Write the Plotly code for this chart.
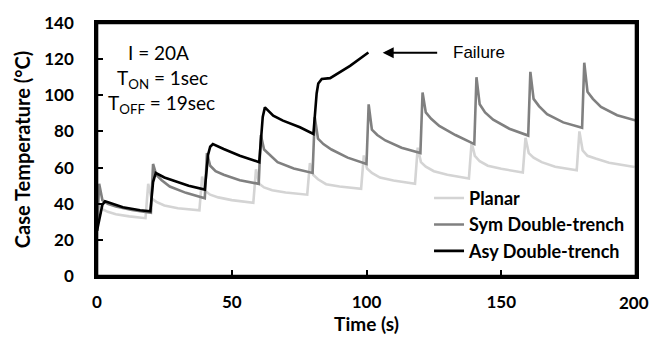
import plotly.graph_objects as go

# ---------------- data ----------------
planar_t = [0, 0.8, 2, 4, 7, 12, 18,
            19, 20.2, 22, 25, 30, 38,
            39, 40.2, 42, 45, 50, 58,
            59, 60.2, 62, 65, 70, 78,
            79, 80.2, 82, 85, 90, 98,
            99, 100.2, 102, 105, 110, 118,
            119, 120.2, 122, 125, 130, 138,
            139, 140.2, 142, 145, 150, 158,
            159, 160.2, 162, 165, 170, 178,
            179, 180.2, 182, 185, 190, 199.5]
planar_v = [25, 40, 37, 35.5, 34.2, 33, 32,
            51, 43, 41, 39, 37.5, 36.4,
            55, 47, 45, 43.5, 42, 40.5,
            59, 51, 49, 47.5, 46.2, 45,
            62.5, 56, 53.5, 50.8, 49.5, 48.3,
            66.7, 59.5, 57, 54.5, 52.8, 51,
            71, 63, 60.5, 58, 56, 54,
            74, 66.5, 63.5, 61, 59.3, 57.3,
            76.5, 68, 65.5, 63, 60.5, 58.5,
            80, 69.5, 66.5, 65, 62.7, 60.3]

sym_t = [0, 0.8, 2, 4, 7, 13, 20,
         20.8, 22, 24, 27, 33, 40,
         40.8, 42, 44, 47, 53, 60,
         60.8, 62, 64, 67, 73, 80,
         80.8, 82, 84, 87, 93, 100,
         100.8, 102, 104, 107, 113, 120,
         120.8, 122, 124, 127, 133, 140,
         140.8, 142, 144, 147, 153, 160,
         160.8, 162, 164, 167, 173, 180,
         180.8, 182, 184, 187, 193, 200]
sym_v = [25, 51, 42, 40, 38.5, 36.5, 35,
         62, 56, 53, 49.5, 46, 43,
         68, 61, 58, 56, 53, 51,
         78, 70, 67, 63, 59.5, 57,
         88, 76, 73, 70, 65.5, 62,
         95, 81, 78, 75, 71, 68,
         101.5, 90.5, 87, 83, 78, 73,
         110, 95, 90.5, 86.5, 81.5, 77.7,
         113, 98, 94, 89.5, 85, 82,
         118, 102, 98, 93.5, 89, 86]

asy_t = [0, 1, 2, 3, 5, 9.6, 16, 19.8,
         20.8, 21.8, 25, 28.3, 34, 40,
         41.2, 42, 43, 47, 53, 60.2,
         61.5, 62.3, 65.4, 69, 75.3, 80.3,
         81.5, 82.1, 83.4, 86.5, 89, 93.9, 100.7]
asy_v = [25, 33, 39.5, 41.3, 40.3, 38, 36.4, 35.8,
         52, 57, 54.5, 52.8, 50, 47.8,
         67, 71.5, 73, 70.3, 66.5, 63,
         88, 93.3, 88.7, 86, 82.3, 78.6,
         101, 106.5, 109, 109.5, 111.7, 116.3, 123.7]

series_names = ["Planar", "Sym Double-trench", "Asy Double-trench"]
series_colors = ["#d4d4d4", "#808080", "#000000"]

x_range = [0, 200]
y_range = [0, 140]
x_ticks = [0, 50, 100, 150, 200]
x_ticktext = ["0", "50", "100", "150", ""]   # last label drawn as text below (edge)
x_last_label = "200"
y_ticks = [0, 20, 40, 60, 80, 100, 120, 140]

failure_point = (106, 123.5)

# ---------------- figure ----------------
fig = go.Figure()
for t, v, name, col in zip([planar_t, sym_t, asy_t], [planar_v, sym_v, asy_v],
                           series_names, series_colors):
    fig.add_trace(go.Scatter(x=t, y=v, mode="lines", name=name,
                             line=dict(color=col, width=2.6)))

def bold(size):
    return dict(family="Lato", size=size, color="#000000", weight="bold")

fig.update_layout(
    width=651, height=341,
    # bottom margin is grown by the x-axis title (automargin) to about 65 px
    margin=dict(l=97, r=15, t=22, b=40),
    paper_bgcolor="white", plot_bgcolor="white",
    showlegend=True,
    legend=dict(x=0.616, y=0.38, xanchor="left", yanchor="top",
                bgcolor="rgba(0,0,0,0)", font=bold(18), itemwidth=30,
                tracegroupgap=0),
    font=dict(family="Lato", color="#000000"),
)

axis_common = dict(showline=True, linecolor="#000000", linewidth=2.6, mirror=True,
                   ticks="inside", ticklen=6, tickwidth=2, tickcolor="#000000",
                   showgrid=False, zeroline=False, tickfont=bold(17))

fig.update_xaxes(range=x_range, tickvals=x_ticks, ticktext=x_ticktext,
                 ticklabelstandoff=9,
                 title=dict(text="Time (s)", font=bold(19), standoff=3),
                 **axis_common)
fig.update_yaxes(range=y_range, tickvals=y_ticks, ticklabelstandoff=17,
                 title=dict(text="Case Temperature (°C)", font=bold(20), standoff=9),
                 **axis_common)

# right-most x tick label as text at the axis end (avoids clipping at the page edge)
fig.add_annotation(x=x_ticks[-1], y=0, xref="x", yref="paper", showarrow=False,
                   text=x_last_label, font=bold(17), xanchor="center", yanchor="middle",
                   xshift=-2, yshift=-26)

# plot frame
fig.add_shape(type="rect", xref="paper", yref="paper", x0=0, x1=1, y0=0, y1=1,
              line=dict(color="#000000", width=2.6), layer="above")

reg = dict(family="Lato", size=19, color="#000000")
fig.add_annotation(x=0.115, y=0.882, xref="paper", yref="paper", showarrow=False,
                   text="I = 20A", font=reg, xanchor="center", yanchor="middle")
fig.add_annotation(x=0.122, y=0.78, xref="paper", yref="paper", showarrow=False,
                   text="T<sub>ON</sub> = 1sec", font=reg, xanchor="center", yanchor="middle")
fig.add_annotation(x=0.12, y=0.681, xref="paper", yref="paper", showarrow=False,
                   text="T<sub>OFF</sub> = 19sec", font=reg, xanchor="center", yanchor="middle")

fig.add_annotation(x=failure_point[0], y=failure_point[1], xref="x", yref="y",
                   text="Failure", showarrow=True, ax=96, ay=0,
                   startstandoff=14,
                   arrowhead=2, arrowsize=1.1, arrowwidth=2, arrowcolor="#000000",
                   font=dict(family="Liberation Sans", size=17, color="#000000"))

fig.write_html("out.html")
